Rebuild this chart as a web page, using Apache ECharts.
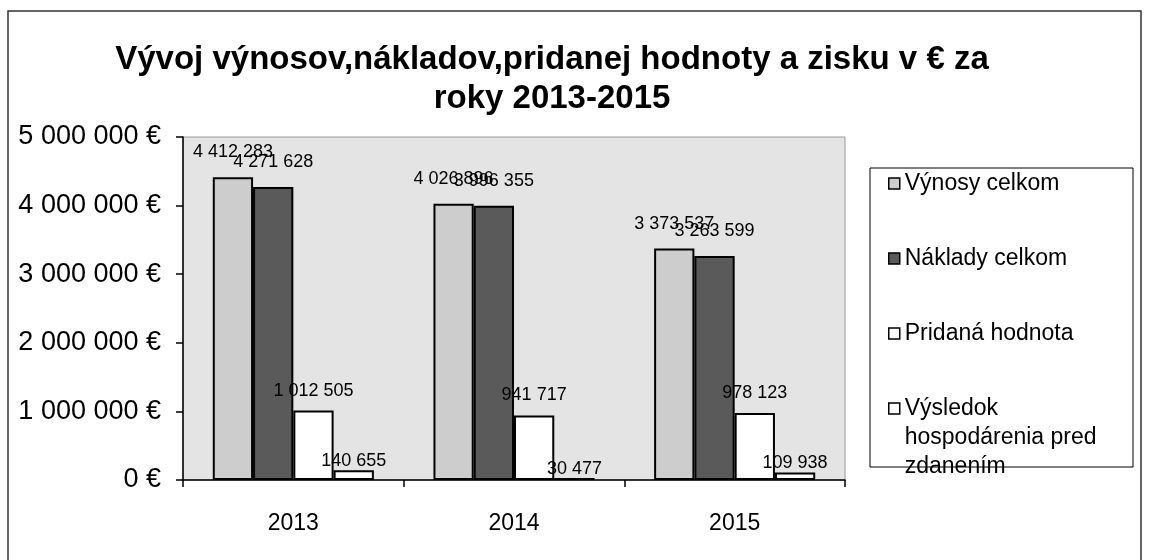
<!DOCTYPE html>
<html>
<head>
<meta charset="utf-8">
<script src="https://cdn.jsdelivr.net/npm/echarts@6/dist/echarts.min.js"></script>
<style>
  html, body { margin: 0; padding: 0; background: #fff; }
  #main { width: 1149px; height: 560px; }
</style>
</head>
<body>
<div id="main"></div>
<script>
// roky
var years = ['2013', '2014', '2015'];
// hodnoty v EUR
var vynosy = [4412283, 4026896, 3373537];
var naklady = [4271628, 3996355, 3263599];
var pridana = [1012505, 941717, 978123];
var vysledok = [140655, 30477, 109938];
var seriesNames = ['Výnosy celkom', 'Náklady celkom', 'Pridaná hodnota', 'Výsledok hospodárenia pred zdanením'];
var yTicks = [0, 1000000, 2000000, 3000000, 4000000, 5000000];

function fmt(v) {
    return String(v).replace(/\B(?=(\d{3})+(?!\d))/g, ' ');
}

var myChart = echarts.init(document.getElementById('main'));

function barSeries(name, data, color, labelDist) {
    return {
        name: name,
        type: 'bar',
        data: data,
        barGap: 0,
        barCategoryGap: '27%',
        itemStyle: { color: color, borderColor: '#000', borderWidth: 2 },
        label: {
            show: true,
            position: 'top',
            distance: labelDist,
            color: '#000',
            fontFamily: 'Liberation Sans',
            fontSize: 18,
            formatter: function (p) { return fmt(p.value); }
        }
    };
}

var legendBase = {
    orient: 'vertical',
    left: 888,
    padding: 0,
    itemGap: 46,
    itemWidth: 11,
    itemHeight: 11,
    icon: 'rect',
    textStyle: {
        fontFamily: 'Liberation Sans',
        fontSize: 23,
        lineHeight: 29,
        color: '#000'
    },
    itemStyle: { borderColor: '#000', borderWidth: 1.5 }
};

var option = {
    backgroundColor: '#fff',
    animation: false,
    title: {
        text: 'Vývoj výnosov,nákladov,pridanej hodnoty a zisku v € za\nroky 2013-2015',
        left: 552,
        top: 40,
        padding: 0,
        textAlign: 'center',
        textStyle: {
            fontFamily: 'Liberation Sans',
            fontWeight: 'bold',
            fontSize: 33,
            lineHeight: 39,
            color: '#000'
        }
    },
    graphic: [
        {
            type: 'rect',
            shape: { x: 8, y: 11, width: 1133, height: 600 },
            style: { fill: 'none', stroke: '#333', lineWidth: 1.5 },
            silent: true
        },
        {
            type: 'rect',
            shape: { x: 870, y: 168, width: 263, height: 299 },
            style: { fill: 'none', stroke: '#000', lineWidth: 1 },
            silent: true
        }
    ],
    legend: [
        echarts.util.extend({ top: 169, data: seriesNames.slice(0, 3) }, legendBase),
        // posledna polozka: dva prazdne riadky hore, aby ikona sedela pri prvom riadku
        echarts.util.extend({
            top: 336,
            data: [seriesNames[3]],
            formatter: function () { return ' \n \nVýsledok\nhospodárenia pred\nzdanením'; }
        }, legendBase)
    ],
    grid: {
        left: 183,
        right: 304,
        top: 137,
        bottom: 80,
        show: true,
        backgroundColor: '#e4e4e4',
        borderColor: '#999',
        borderWidth: 1
    },
    xAxis: {
        type: 'category',
        data: years,
        axisLine: { lineStyle: { color: '#000', width: 1.5 } },
        axisTick: { show: true, length: 7, lineStyle: { color: '#000', width: 1.5 } },
        axisLabel: {
            margin: 32,
            color: '#000',
            fontFamily: 'Liberation Sans',
            fontSize: 23
        }
    },
    yAxis: {
        type: 'value',
        min: yTicks[0],
        max: yTicks[yTicks.length - 1],
        interval: 1000000,
        splitLine: { show: false },
        axisLine: { show: true, lineStyle: { color: '#000', width: 1.5 } },
        axisTick: { show: true, length: 7, lineStyle: { color: '#000', width: 1.5 } },
        axisLabel: {
            margin: 22,
            color: '#000',
            fontFamily: 'Liberation Sans',
            fontSize: 27,
            formatter: function (v) { return fmt(v) + ' €'; }
        }
    },
    series: [
        barSeries(seriesNames[0], vynosy, '#cdcdcd', 16),
        barSeries(seriesNames[1], naklady, '#5a5a5a', 16),
        barSeries(seriesNames[2], pridana, '#ffffff', 11),
        barSeries(seriesNames[3], vysledok, '#ffffff', 0)
    ]
};
myChart.setOption(option);
</script>
</body>
</html>
